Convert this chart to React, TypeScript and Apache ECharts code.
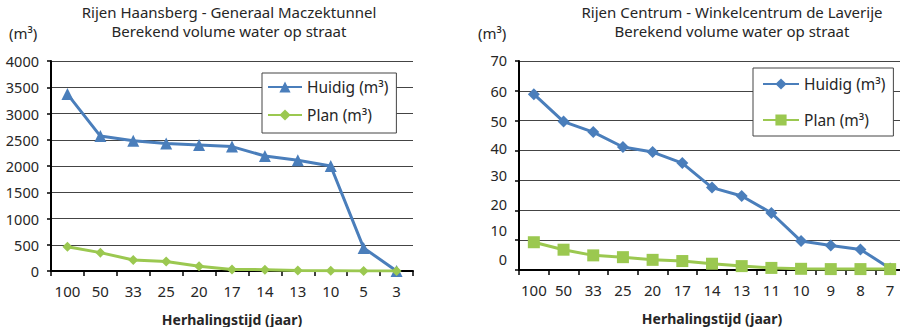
import { useEffect, useRef } from "react";
import * as echarts from "echarts";

// Herhalingstijd (jaar) per locatie
const haansbergYears = ["100", "50", "33", "25", "20", "17", "14", "13", "10", "5", "3"];
const haansbergHuidig = [3370, 2570, 2480, 2430, 2400, 2370, 2190, 2110, 2000, 440, 0];
const haansbergPlan = [460, 350, 210, 180, 90, 30, 25, 10, 5, 0, 0];

const centrumYears = ["100", "50", "33", "25", "20", "17", "14", "13", "11", "10", "9", "8", "7"];
const centrumHuidig = [58.9, 49.7, 46.2, 41.2, 39.5, 35.8, 27.6, 24.8, 19.1, 9.7, 8.2, 6.9, 0.5];
const centrumPlan = [9.3, 6.8, 4.9, 4.3, 3.4, 3.0, 2.1, 1.3, 0.7, 0.4, 0.3, 0.3, 0.3];

const haansbergTitle = ["Rijen Haansberg - Generaal Maczektunnel", "Berekend volume water op straat"];
const centrumTitle = ["Rijen Centrum - Winkelcentrum de Laverije", "Berekend volume water op straat"];

const FONT = "'Noto Sans', 'Open Sans', sans-serif";
const TEXT = "#262626";
const BLUE = "#4a7ebb";
const GREEN = "#9bc850";

// vertical nudge (px, upwards) of the right chart's value labels
const centrumLabelLift: Record<number, number> = { 70: 1, 60: 0, 50: 0, 40: 3, 30: 5, 20: 6, 10: 10, 0: 11 };

function titlesFor(lines: string[], centerX: number) {
  return lines.map((text, i) => ({
    text,
    left: centerX,
    top: 4 + i * 19,
    padding: 0,
    textAlign: "center",
    textStyle: { fontFamily: FONT, fontSize: 15, fontWeight: "normal", color: TEXT },
  }));
}

function xAxisFor(categories: string[]) {
  return {
    type: "category",
    data: categories,
    name: "Herhalingstijd (jaar)",
    nameLocation: "middle",
    nameGap: 41,
    nameTextStyle: { fontFamily: FONT, fontSize: 14, fontWeight: "bold", color: TEXT },
    axisLine: { lineStyle: { color: "#000", width: 2 } },
    axisTick: { show: true, length: 5, lineStyle: { color: "#000", width: 1.5 } },
    axisLabel: { fontFamily: FONT, fontSize: 15, color: TEXT, margin: 12, interval: 0 },
    splitLine: { show: false },
  };
}

function lineSeries(name: string, data: number[], color: string, symbol: string, size: number) {
  return {
    type: "line",
    name,
    data,
    symbol,
    symbolSize: size,
    showAllSymbol: true,
    lineStyle: { color, width: 3 },
    itemStyle: { color },
  };
}

function unitLabel(left: number) {
  return {
    type: "text",
    left,
    top: 25,
    style: { text: "(m³)", font: `15px ${FONT}`, fill: TEXT },
  };
}

function haansbergOption(): any {
  return {
    animation: false,
    title: titlesFor(haansbergTitle, 229),
    graphic: [unitLabel(9)],
    grid: { left: 51, right: 37, top: 61, bottom: 56, outerBoundsMode: "none" },
    xAxis: xAxisFor(haansbergYears),
    yAxis: {
      type: "value",
      min: 0,
      max: 4000,
      interval: 500,
      axisLine: { show: true, lineStyle: { color: "#000", width: 2 } },
      axisTick: { show: true, length: 4, lineStyle: { color: "#000", width: 1.5 } },
      axisLabel: { fontFamily: FONT, fontSize: 14.5, color: TEXT, margin: 12, formatter: (v: number) => String(v) },
      splitLine: { lineStyle: { color: "#444", width: 1 } },
    },
    legend: {
      left: 262,
      top: 73,
      orient: "vertical",
      selectedMode: false,
      borderColor: "#444",
      borderWidth: 1,
      padding: [6, 8, 10, 5],
      itemWidth: 34,
      itemHeight: 14,
      itemGap: 12,
      textStyle: { fontFamily: FONT, fontSize: 15.5, color: TEXT },
      backgroundColor: "#fff",
      data: ["Huidig (m³)", "Plan (m³)"],
    },
    series: [
      lineSeries("Huidig (m³)", haansbergHuidig, BLUE, "triangle", 12),
      lineSeries("Plan (m³)", haansbergPlan, GREEN, "diamond", 10),
    ],
  };
}

function centrumOption(): any {
  const rich: Record<string, any> = {};
  Object.keys(centrumLabelLift).forEach((k) => {
    const lift = centrumLabelLift[Number(k)];
    rich["v" + k] = {
      fontFamily: FONT,
      fontSize: 14.5,
      color: TEXT,
      padding: [0, 0, lift * 2, 0],
    };
  });
  return {
    animation: false,
    title: titlesFor(centrumTitle, 282),
    graphic: [unitLabel(28)],
    grid: { left: 69, right: -5, top: 61, bottom: 57, outerBoundsMode: "none" },
    xAxis: xAxisFor(centrumYears),
    yAxis: {
      type: "value",
      min: 0,
      max: 70,
      interval: 10,
      axisLine: { show: true, lineStyle: { color: "#000", width: 2 } },
      axisTick: { show: true, length: 4, lineStyle: { color: "#000", width: 1.5 } },
      axisLabel: {
        fontFamily: FONT,
        fontSize: 14.5,
        color: TEXT,
        margin: 12,
        formatter: (v: number) => `{v${v}|${v}}`,
        rich,
      },
      splitLine: { lineStyle: { color: "#444", width: 1 } },
    },
    legend: {
      left: 303,
      top: 68,
      orient: "vertical",
      selectedMode: false,
      borderColor: "#444",
      borderWidth: 1,
      padding: [8, 8, 8, 9],
      itemWidth: 36,
      itemHeight: 14,
      itemGap: 20,
      textStyle: { fontFamily: FONT, fontSize: 15.5, color: TEXT },
      backgroundColor: "#fff",
      data: ["Huidig (m³)", "Plan (m³)"],
    },
    series: [
      lineSeries("Huidig (m³)", centrumHuidig, BLUE, "diamond", 12),
      lineSeries("Plan (m³)", centrumPlan, GREEN, "rect", 12),
    ],
  };
}

function ChartBox({ build }: { build: () => any }) {
  const ref = useRef<HTMLDivElement>(null);
  useEffect(() => {
    if (!ref.current) return;
    const chart = echarts.init(ref.current, undefined, { renderer: "svg" });
    chart.setOption(build());
    return () => chart.dispose();
  }, [build]);
  return <div ref={ref} style={{ width: 450, height: 327, overflow: "hidden" }} />;
}

export default function App() {
  useEffect(() => {
    document.body.style.margin = "0";
  }, []);
  return (
    <div style={{ display: "flex", width: 900, height: 327, background: "#fff", overflow: "hidden" }}>
      <ChartBox build={haansbergOption} />
      <ChartBox build={centrumOption} />
    </div>
  );
}
